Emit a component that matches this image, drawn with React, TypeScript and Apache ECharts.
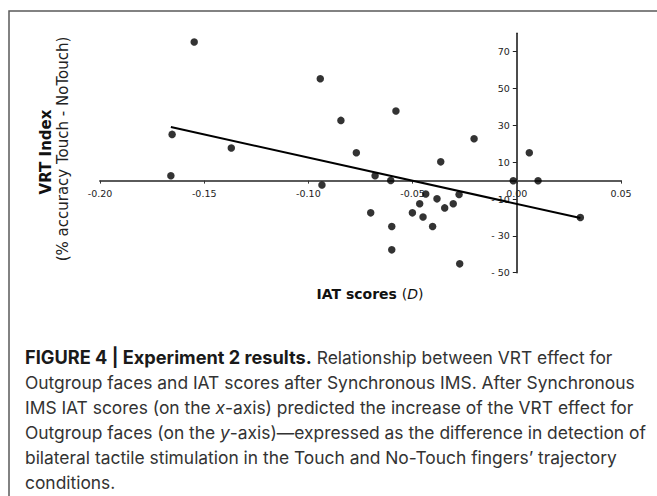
import React, { useEffect, useRef } from "react";
import * as echarts from "echarts";

// IAT scores (D) and VRT index values
const iatScores = [
  -0.1548, -0.1654, -0.137, -0.166, -0.0943, -0.0844, -0.058, -0.077, -0.0205, -0.0365,
  -0.068, -0.0605, -0.0935, -0.0437, -0.0277, -0.0383, -0.0466, -0.0305, -0.0346, -0.0701,
  -0.0501, -0.045, -0.06, -0.0404, -0.06, -0.0274, 0.006, -0.0017, 0.0102, 0.0305,
];
const vrtIndex = [
  75.3, 25.1, 17.7, 2.6, 55.3, 32.7, 37.8, 15.1, 22.7, 10.2,
  2.6, 0.1, -2.4, -7.3, -7.5, -9.9, -12.6, -12.6, -14.8, -17.5,
  -17.5, -19.8, -24.9, -24.9, -37.6, -45.2, 15.1, -0.1, -0.1, -20,
];
// regression line end points
const fitX = [-0.166, 0.0305];
const fitY = [29.1, -20.3];

const xMin = -0.2;
const xMax = 0.05;
const yMin = -50;
const yMax = 80;
const yTickValues = [-50, -30, -10, 10, 30, 50, 70];

const captionLines = [
  "{b|FIGURE 4 | Experiment 2 results.} Relationship between VRT effect for",
  "Outgroup faces and IAT scores after Synchronous IMS. After Synchronous",
  "IMS IAT scores (on the {i|x}-axis) predicted the increase of the VRT effect for",
  "Outgroup faces (on the {i|y}-axis)\u2014expressed as the difference in detection of",
  "bilateral tactile stimulation in the Touch and No-Touch fingers\u2019 trajectory",
  "conditions.",
];

export default function App() {
  const ref = useRef<HTMLDivElement>(null);
  useEffect(() => {
    if (!ref.current) return;
    const chart = echarts.init(ref.current, null, { renderer: "svg" });
    const points = iatScores.map((x, i) => [x, vrtIndex[i]]);
    const fit = fitX.map((x, i) => [x, fitY[i]]);
    const capFont = "Inter, 'Liberation Sans', Arial, sans-serif";
    const axisFont = "'DejaVu Sans', Verdana, sans-serif";

    const gridLeft = 100;
    const gridRight = 36;
    const gridTop = 33.3;
    const gridBottom = 223.3;
    const plotW = 657 - gridLeft - gridRight;
    const plotH = 496 - gridTop - gridBottom;
    // shift the axes so they cross at the origin
    const yAxisShift = ((0 - xMin) / (xMax - xMin)) * plotW;
    const xAxisShift = ((0 - yMin) / (yMax - yMin)) * plotH;

    chart.setOption({
      animation: false,
      backgroundColor: "#ffffff",
      grid: { left: gridLeft, right: gridRight, top: gridTop, bottom: gridBottom, containLabel: false },
      xAxis: {
        type: "value",
        position: "bottom",
        offset: -xAxisShift,
        min: xMin,
        max: xMax,
        interval: 0.05,
        axisLine: { onZero: false, lineStyle: { color: "#5a5a5a", width: 2 } },
        axisTick: { show: true, length: 3, lineStyle: { color: "#333", width: 1 } },
        axisLabel: {
          color: "#222",
          fontSize: 9.5,
          fontFamily: axisFont,
          margin: 8,
          formatter: (v: number) => v.toFixed(2),
        },
        splitLine: { show: false },
      },
      yAxis: {
        type: "value",
        position: "left",
        offset: -yAxisShift,
        min: yMin,
        max: yMax,
        axisLine: { onZero: false, lineStyle: { color: "#111", width: 1.5 } },
        axisTick: { show: true, length: 4, customValues: yTickValues, lineStyle: { color: "#222" } },
        axisLabel: {
          customValues: yTickValues,
          color: "#222",
          fontSize: 9.5,
          fontFamily: axisFont,
          margin: 7,
          formatter: (v: number) => (v < 0 ? "- " + Math.abs(v) : String(v)),
        },
        splitLine: { show: false },
      },
      series: [
        {
          type: "line",
          data: fit,
          showSymbol: false,
          symbol: "none",
          lineStyle: { color: "#000", width: 2 },
          z: 2,
        },
        {
          type: "scatter",
          data: points,
          symbolSize: 7.5,
          itemStyle: { color: "#000" },
          z: 3,
        },
      ],
      graphic: [
        {
          type: "polyline",
          shape: { points: [[9, 700], [9, 11], [700, 11]] },
          style: { stroke: "#5a5a5a", lineWidth: 1.5, fill: "none" },
          silent: true,
        },
        {
          type: "text",
          x: 45.7,
          y: 152,
          rotation: Math.PI / 2,
          style: {
            text: "VRT Index",
            font: `bold 15px ${axisFont}`,
            fill: "#111",
            textAlign: "center",
            textVerticalAlign: "middle",
          },
        },
        {
          type: "text",
          x: 62.5,
          y: 149,
          rotation: Math.PI / 2,
          style: {
            text: "(% accuracy Touch - NoTouch)",
            font: `15px ${axisFont}`,
            fill: "#222",
            textAlign: "center",
            textVerticalAlign: "middle",
          },
        },
        {
          type: "text",
          x: 370,
          y: 294,
          style: {
            text: "{b|IAT scores }{r|(}{i|D}{r|)}",
            textAlign: "center",
            textVerticalAlign: "middle",
            rich: {
              b: { fontFamily: axisFont, fontWeight: "bold", fontSize: 14, fill: "#111" },
              r: { fontFamily: axisFont, fontSize: 14, fill: "#111" },
              i: { fontFamily: axisFont, fontStyle: "italic", fontSize: 14, fill: "#111" },
            },
          },
        },
        ...captionLines.map((t, k) => ({
          type: "text",
          x: 25,
          y: 357 + k * 25,
          style: {
            text: t,
            textAlign: "left",
            textVerticalAlign: "middle",
            fontFamily: capFont,
            fontSize: 17.4,
            fill: "#333",
            rich: {
              b: { fontFamily: capFont, fontWeight: "bold", fontSize: 18.2, fill: "#1a1a1a" },
              i: { fontFamily: capFont, fontStyle: "italic", fontSize: 17.4, fill: "#333" },
            },
          },
        })),
      ],
    });
    return () => chart.dispose();
  }, []);
  return (
    <div
      ref={ref}
      style={{ position: "absolute", left: 0, top: 0, width: 657, height: 496 }}
    />
  );
}
